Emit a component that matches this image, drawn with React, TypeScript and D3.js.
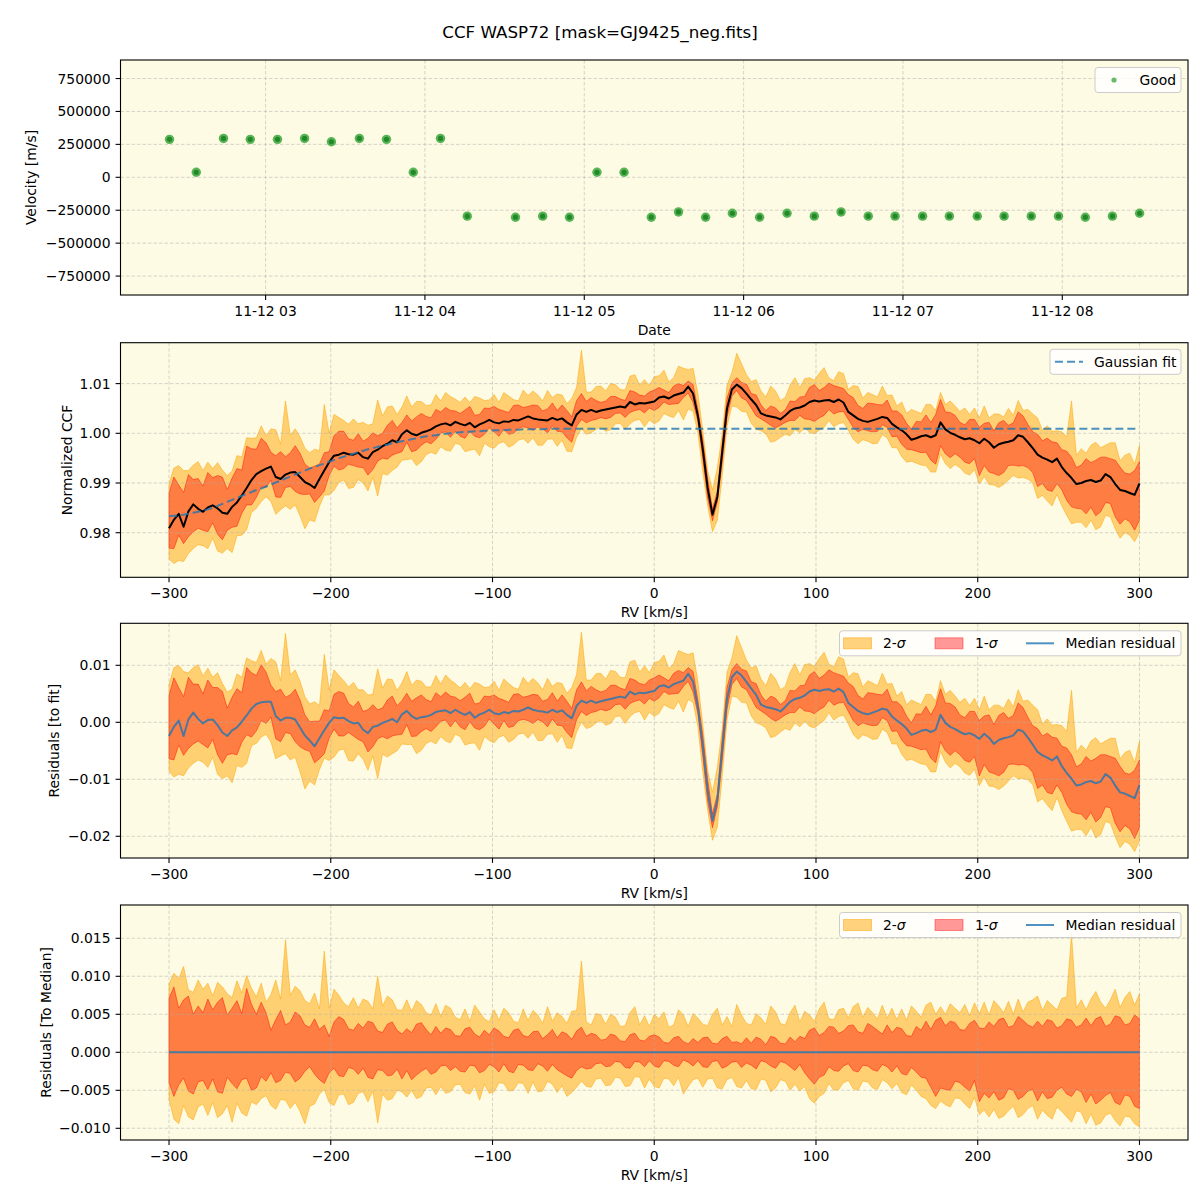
import React from "react";
import * as d3 from "d3";

// ---------------- data ----------------
const chartTitle = "CCF WASP72 [mask=GJ9425_neg.fits]";
const obsDay = "2023-11-12";

const obsTimes = [
  "02:23:49", "02:33:54", "02:44:09", "02:54:14", "03:04:29", "03:14:41", "03:24:47", "03:35:19",
  "03:45:31", "03:55:37", "04:05:52", "04:15:57", "04:34:06", "04:44:20", "04:54:26", "05:04:47",
  "05:14:59", "05:25:14", "05:35:29", "05:45:41", "05:55:46", "06:06:01", "06:16:22", "06:26:37",
  "06:36:42", "06:46:56", "06:57:02", "07:07:23", "07:17:29", "07:27:59", "07:38:05", "07:48:19",
  "07:58:34", "08:08:40", "08:18:52", "08:29:06",
];
const obsVelocity = [
  288000, 38000, 295000, 288000, 288000, 295000, 270000, 295000,
  288000, 38000, 295000, -295000, -303000, -295000, -303000, 38000,
  38000, -303000, -263000, -303000, -273000, -303000, -273000, -295000,
  -263000, -295000, -295000, -295000, -295000, -295000, -295000, -295000,
  -295000, -303000, -295000, -273000,
];

// RV sampling grid (km/s)
const rvGrid: number[] = d3.range(-300, 301, 3);

const ccfMedian = [
  0.9809, 0.9826, 0.9838, 0.9812, 0.9843, 0.9857, 0.9848, 0.9842, 0.9851, 0.9855,
  0.9849, 0.9840, 0.9838, 0.9852, 0.9861, 0.9875, 0.9890, 0.9906, 0.9918, 0.9924,
  0.9929, 0.9933, 0.9912, 0.9908, 0.9917, 0.9921, 0.9922, 0.9912, 0.9902, 0.9897,
  0.9890, 0.9908, 0.9925, 0.9942, 0.9955, 0.9957, 0.9961, 0.9958, 0.9957, 0.9961,
  0.9952, 0.9949, 0.9962, 0.9967, 0.9974, 0.9979, 0.9986, 0.9982, 0.9998, 1.0006,
  0.9999, 0.9996, 1.0001, 1.0004, 1.0008, 1.0014, 1.0018, 1.0020, 1.0016, 1.0023,
  1.0019, 1.0016, 1.0021, 1.0012, 1.0018, 1.0022, 1.0027, 1.0022, 1.0020, 1.0024,
  1.0023, 1.0027, 1.0026, 1.0030, 1.0034, 1.0030, 1.0028, 1.0027, 1.0026, 1.0031,
  1.0027, 1.0030, 1.0022, 1.0016, 1.0038, 1.0047, 1.0043, 1.0047, 1.0043, 1.0046,
  1.0048, 1.0050, 1.0052, 1.0054, 1.0052, 1.0063, 1.0058, 1.0061, 1.0060, 1.0062,
  1.0064, 1.0072, 1.0074, 1.0070, 1.0076, 1.0079, 1.0082, 1.0094, 1.0080, 1.0035,
  0.9968, 0.9890, 0.9836, 0.9872, 0.9962, 1.0050, 1.0088, 1.0098, 1.0091, 1.0080,
  1.0068, 1.0057, 1.0040, 1.0036, 1.0034, 1.0032, 1.0028, 1.0036, 1.0045, 1.0050,
  1.0052, 1.0056, 1.0063, 1.0066, 1.0064, 1.0066, 1.0067, 1.0063, 1.0068, 1.0062,
  1.0043, 1.0036, 1.0029, 1.0025, 1.0023, 1.0026, 1.0029, 1.0033, 1.0031, 1.0019,
  1.0012, 1.0006, 0.9998, 0.9987, 0.9990, 0.9994, 0.9996, 0.9992, 0.9996, 1.0022,
  1.0008, 1.0001, 0.9997, 0.9992, 0.9988, 0.9990, 0.9986, 0.9980, 0.9989, 0.9982,
  0.9971, 0.9978, 0.9981, 0.9983, 0.9986, 0.9996, 0.9993, 0.9982, 0.9970, 0.9957,
  0.9951, 0.9947, 0.9942, 0.9949, 0.9932, 0.9920, 0.9910, 0.9898, 0.9900, 0.9904,
  0.9906, 0.9902, 0.9905, 0.9918, 0.9912, 0.9898, 0.9886, 0.9884, 0.9880, 0.9876,
  0.9899,
];

const gaussianFit = [
  0.9833, 0.9834, 0.9835, 0.9836, 0.9838, 0.9840, 0.9842, 0.9844, 0.9847, 0.9850,
  0.9854, 0.9858, 0.9862, 0.9866, 0.9870, 0.9874, 0.9878, 0.9882, 0.9886, 0.9889,
  0.9893, 0.9897, 0.9901, 0.9905, 0.9909, 0.9913, 0.9917, 0.9921, 0.9925, 0.9929,
  0.9932, 0.9936, 0.9939, 0.9943, 0.9946, 0.9950, 0.9953, 0.9956, 0.9959, 0.9962,
  0.9965, 0.9968, 0.9970, 0.9973, 0.9975, 0.9977, 0.9980, 0.9982, 0.9984, 0.9986,
  0.9988, 0.9990, 0.9992, 0.9994, 0.9995, 0.9996, 0.9998, 0.9999, 1.0000, 1.0001,
  1.0002, 1.0003, 1.0003, 1.0004, 1.0004, 1.0005, 1.0005, 1.0006, 1.0006, 1.0006,
  1.0007, 1.0007, 1.0007, 1.0008, 1.0008, 1.0008, 1.0008, 1.0008, 1.0009, 1.0009,
  1.0009, 1.0009, 1.0009, 1.0009, 1.0009, 1.0009, 1.0009, 1.0009, 1.0009, 1.0009, 1.0009,
  1.0009, 1.0009, 1.0009, 1.0009, 1.0009, 1.0009, 1.0009, 1.0009, 1.0009, 1.0009, 1.0009,
  1.0009, 1.0009, 1.0009, 1.0009, 1.0009, 1.0009, 1.0009, 1.0009, 1.0009, 1.0009, 1.0009,
  1.0009, 1.0009, 1.0009, 1.0009, 1.0009, 1.0009, 1.0009, 1.0009, 1.0009, 1.0009, 1.0009,
  1.0009, 1.0009, 1.0009, 1.0009, 1.0009, 1.0009, 1.0009, 1.0009, 1.0009, 1.0009, 1.0009,
  1.0009, 1.0009, 1.0009, 1.0009, 1.0009, 1.0009, 1.0009, 1.0009, 1.0009, 1.0009, 1.0009,
  1.0009, 1.0009, 1.0009, 1.0009, 1.0009, 1.0009, 1.0009, 1.0009, 1.0009, 1.0009, 1.0009,
  1.0009, 1.0009, 1.0009, 1.0009, 1.0009, 1.0009, 1.0009, 1.0009, 1.0009, 1.0009, 1.0009,
  1.0009, 1.0009, 1.0009, 1.0009, 1.0009, 1.0009, 1.0009, 1.0009, 1.0009, 1.0009, 1.0009,
  1.0009, 1.0009, 1.0009, 1.0009, 1.0009, 1.0009, 1.0009, 1.0009, 1.0009, 1.0009, 1.0009,
  1.0009, 1.0009, 1.0009, 1.0009, 1.0009, 1.0009, 1.0009, 1.0009, 1.0009, 1.0009, 1.0009,
];

// band edges, as offsets from the median CCF
const sigma1Upper = [
  0.0071, 0.0086, 0.0058, 0.0069, 0.0074, 0.0050, 0.0061, 0.0052, 0.0070, 0.0056,
  0.0066, 0.0072, 0.0049, 0.0058, 0.0068, 0.0051, 0.0084, 0.0063, 0.0050, 0.0066,
  0.0052, 0.0029, 0.0043, 0.0055, 0.0036, 0.0040, 0.0053, 0.0048, 0.0036, 0.0033,
  0.0044, 0.0030, 0.0036, 0.0021, 0.0040, 0.0047, 0.0043, 0.0031, 0.0029, 0.0038,
  0.0032, 0.0041, 0.0039, 0.0028, 0.0026, 0.0037, 0.0040, 0.0029, 0.0024, 0.0031,
  0.0026, 0.0037, 0.0039, 0.0030, 0.0023, 0.0034, 0.0025, 0.0032, 0.0030, 0.0022,
  0.0021, 0.0031, 0.0033, 0.0024, 0.0020, 0.0029, 0.0023, 0.0032, 0.0028, 0.0021,
  0.0019, 0.0029, 0.0031, 0.0022, 0.0020, 0.0027, 0.0028, 0.0018, 0.0023, 0.0030,
  0.0019, 0.0027, 0.0024, 0.0017, 0.0028, 0.0033, 0.0021, 0.0025, 0.0023, 0.0016,
  0.0017, 0.0024, 0.0022, 0.0015, 0.0014, 0.0023, 0.0025, 0.0016, 0.0015, 0.0021,
  0.0023, 0.0020, 0.0013, 0.0012, 0.0019, 0.0021, 0.0014, 0.0011, 0.0018, 0.0013,
  0.0019, 0.0020, 0.0012, 0.0011, 0.0018, 0.0021, 0.0013, 0.0014, 0.0011, 0.0019,
  0.0012, 0.0020, 0.0017, 0.0010, 0.0021, 0.0019, 0.0012, 0.0011, 0.0020, 0.0014,
  0.0021, 0.0018, 0.0029, 0.0032, 0.0022, 0.0026, 0.0034, 0.0033, 0.0025, 0.0028,
  0.0035, 0.0036, 0.0027, 0.0025, 0.0038, 0.0034, 0.0029, 0.0024, 0.0036, 0.0026,
  0.0033, 0.0031, 0.0022, 0.0021, 0.0034, 0.0029, 0.0041, 0.0030, 0.0042, 0.0046,
  0.0035, 0.0041, 0.0039, 0.0030, 0.0029, 0.0038, 0.0042, 0.0032, 0.0031, 0.0040,
  0.0034, 0.0043, 0.0045, 0.0033, 0.0035, 0.0047, 0.0042, 0.0036, 0.0033, 0.0041,
  0.0034, 0.0043, 0.0041, 0.0032, 0.0035, 0.0044, 0.0042, 0.0033, 0.0036, 0.0045,
  0.0035, 0.0044, 0.0047, 0.0034, 0.0037, 0.0048, 0.0046, 0.0036, 0.0038, 0.0049,
  0.0044,
];
const sigma1Lower = [
  -0.0040, -0.0058, -0.0043, -0.0034, -0.0051, -0.0055, -0.0039, -0.0037, -0.0049, -0.0035,
  -0.0052, -0.0054, -0.0033, -0.0041, -0.0048, -0.0036, -0.0034, -0.0050, -0.0047, -0.0032,
  -0.0038, -0.0027, -0.0040, -0.0037, -0.0026, -0.0028, -0.0039, -0.0034, -0.0025, -0.0019,
  -0.0029, -0.0036, -0.0041, -0.0027, -0.0021, -0.0031, -0.0032, -0.0020, -0.0022, -0.0029,
  -0.0021, -0.0033, -0.0035, -0.0023, -0.0024, -0.0031, -0.0030, -0.0022, -0.0035, -0.0024,
  -0.0036, -0.0030, -0.0025, -0.0021, -0.0029, -0.0026, -0.0018, -0.0017, -0.0024, -0.0019,
  -0.0025, -0.0026, -0.0017, -0.0018, -0.0027, -0.0024, -0.0016, -0.0019, -0.0026, -0.0015,
  -0.0025, -0.0027, -0.0016, -0.0017, -0.0023, -0.0024, -0.0015, -0.0018, -0.0025, -0.0016,
  -0.0023, -0.0027, -0.0031, -0.0034, -0.0024, -0.0019, -0.0022, -0.0021, -0.0015, -0.0014,
  -0.0019, -0.0018, -0.0012, -0.0013, -0.0020, -0.0021, -0.0012, -0.0013, -0.0019, -0.0011,
  -0.0018, -0.0020, -0.0011, -0.0012, -0.0017, -0.0019, -0.0010, -0.0013, -0.0018, -0.0011,
  -0.0019, -0.0020, -0.0012, -0.0011, -0.0021, -0.0018, -0.0013, -0.0012, -0.0020, -0.0014,
  -0.0017, -0.0022, -0.0011, -0.0013, -0.0018, -0.0021, -0.0012, -0.0014, -0.0019, -0.0024,
  -0.0016, -0.0027, -0.0035, -0.0042, -0.0033, -0.0030, -0.0019, -0.0024, -0.0025, -0.0018,
  -0.0015, -0.0024, -0.0026, -0.0017, -0.0018, -0.0023, -0.0025, -0.0016, -0.0019, -0.0026,
  -0.0018, -0.0028, -0.0030, -0.0020, -0.0026, -0.0033, -0.0034, -0.0046, -0.0058, -0.0047,
  -0.0049, -0.0050, -0.0038, -0.0040, -0.0046, -0.0051, -0.0037, -0.0065, -0.0054, -0.0060,
  -0.0052, -0.0063, -0.0060, -0.0048, -0.0050, -0.0062, -0.0058, -0.0051, -0.0049, -0.0064,
  -0.0052, -0.0061, -0.0059, -0.0050, -0.0046, -0.0055, -0.0058, -0.0049, -0.0052, -0.0066,
  -0.0055, -0.0068, -0.0063, -0.0057, -0.0053, -0.0066, -0.0069, -0.0056, -0.0058, -0.0071,
  -0.0074,
];
const sigma2Upper = [
  0.0090, 0.0104, 0.0097, 0.0113, 0.0082, 0.0079, 0.0095, 0.0083, 0.0091, 0.0074,
  0.0092, 0.0086, 0.0077, 0.0072, 0.0094, 0.0078, 0.0101, 0.0084, 0.0073, 0.0091,
  0.0066, 0.0076, 0.0095, 0.0070, 0.0148, 0.0075, 0.0087, 0.0081, 0.0068, 0.0064,
  0.0078, 0.0057, 0.0133, 0.0058, 0.0083, 0.0075, 0.0065, 0.0060, 0.0072, 0.0058,
  0.0070, 0.0067, 0.0057, 0.0100, 0.0061, 0.0074, 0.0069, 0.0056, 0.0055, 0.0069,
  0.0054, 0.0068, 0.0063, 0.0052, 0.0049, 0.0064, 0.0047, 0.0062, 0.0058, 0.0046,
  0.0043, 0.0057, 0.0041, 0.0062, 0.0053, 0.0044, 0.0040, 0.0056, 0.0042, 0.0058,
  0.0052, 0.0041, 0.0039, 0.0057, 0.0042, 0.0055, 0.0049, 0.0038, 0.0060, 0.0041,
  0.0052, 0.0047, 0.0038, 0.0054, 0.0055, 0.0120, 0.0040, 0.0036, 0.0051, 0.0049,
  0.0037, 0.0050, 0.0046, 0.0034, 0.0035, 0.0052, 0.0060, 0.0036, 0.0048, 0.0034,
  0.0050, 0.0044, 0.0053, 0.0033, 0.0036, 0.0056, 0.0049, 0.0034, 0.0051, 0.0045,
  0.0037, 0.0035, 0.0050, 0.0058, 0.0036, 0.0047, 0.0034, 0.0063, 0.0049, 0.0038,
  0.0036, 0.0051, 0.0045, 0.0037, 0.0061, 0.0053, 0.0038, 0.0036, 0.0052, 0.0062,
  0.0040, 0.0054, 0.0049, 0.0041, 0.0057, 0.0066, 0.0044, 0.0043, 0.0056, 0.0058,
  0.0045, 0.0060, 0.0065, 0.0046, 0.0059, 0.0052, 0.0044, 0.0062, 0.0045, 0.0058,
  0.0043, 0.0057, 0.0042, 0.0061, 0.0054, 0.0046, 0.0062, 0.0066, 0.0050, 0.0060,
  0.0050, 0.0064, 0.0058, 0.0052, 0.0063, 0.0048, 0.0065, 0.0051, 0.0066, 0.0049,
  0.0068, 0.0061, 0.0052, 0.0067, 0.0050, 0.0070, 0.0053, 0.0066, 0.0069, 0.0074,
  0.0055, 0.0068, 0.0062, 0.0056, 0.0071, 0.0073, 0.0155, 0.0058, 0.0069, 0.0056,
  0.0070, 0.0080, 0.0066, 0.0058, 0.0069, 0.0083, 0.0059, 0.0072, 0.0080, 0.0062,
  0.0077,
];
const sigma2Lower = [
  -0.0062, -0.0088, -0.0094, -0.0070, -0.0085, -0.0089, -0.0072, -0.0068, -0.0083, -0.0066,
  -0.0086, -0.0081, -0.0070, -0.0092, -0.0067, -0.0080, -0.0084, -0.0065, -0.0069, -0.0061,
  -0.0057, -0.0070, -0.0075, -0.0062, -0.0063, -0.0074, -0.0066, -0.0078, -0.0094, -0.0071,
  -0.0068, -0.0055, -0.0049, -0.0066, -0.0070, -0.0056, -0.0055, -0.0069, -0.0066, -0.0054,
  -0.0052, -0.0065, -0.0051, -0.0093, -0.0055, -0.0063, -0.0061, -0.0050, -0.0052, -0.0059,
  -0.0050, -0.0061, -0.0058, -0.0047, -0.0046, -0.0056, -0.0045, -0.0054, -0.0052, -0.0043,
  -0.0042, -0.0053, -0.0055, -0.0044, -0.0063, -0.0042, -0.0054, -0.0052, -0.0040, -0.0041,
  -0.0051, -0.0050, -0.0040, -0.0041, -0.0054, -0.0039, -0.0052, -0.0051, -0.0038, -0.0042,
  -0.0053, -0.0044, -0.0058, -0.0053, -0.0046, -0.0038, -0.0045, -0.0046, -0.0035, -0.0034,
  -0.0044, -0.0043, -0.0033, -0.0034, -0.0045, -0.0044, -0.0032, -0.0033, -0.0047, -0.0035,
  -0.0045, -0.0047, -0.0034, -0.0035, -0.0044, -0.0033, -0.0055, -0.0045, -0.0036, -0.0034,
  -0.0046, -0.0035, -0.0034, -0.0047, -0.0048, -0.0036, -0.0033, -0.0045, -0.0047, -0.0037,
  -0.0048, -0.0049, -0.0035, -0.0037, -0.0052, -0.0047, -0.0036, -0.0038, -0.0050, -0.0042,
  -0.0051, -0.0045, -0.0061, -0.0067, -0.0058, -0.0054, -0.0041, -0.0050, -0.0049, -0.0040,
  -0.0037, -0.0048, -0.0050, -0.0038, -0.0039, -0.0047, -0.0049, -0.0036, -0.0040, -0.0048,
  -0.0041, -0.0053, -0.0056, -0.0043, -0.0050, -0.0058, -0.0061, -0.0070, -0.0074, -0.0064,
  -0.0069, -0.0072, -0.0060, -0.0061, -0.0068, -0.0074, -0.0059, -0.0082, -0.0076, -0.0085,
  -0.0075, -0.0087, -0.0084, -0.0077, -0.0071, -0.0086, -0.0082, -0.0074, -0.0070, -0.0088,
  -0.0076, -0.0083, -0.0088, -0.0072, -0.0078, -0.0085, -0.0092, -0.0077, -0.0079, -0.0094,
  -0.0081, -0.0096, -0.0093, -0.0083, -0.0080, -0.0090, -0.0097, -0.0084, -0.0085, -0.0094,
  -0.0098,
];

// ticks
const dateTickHours = ["03", "04", "05", "06", "07", "08"];
const velocityTicks = [-750000, -500000, -250000, 0, 250000, 500000, 750000];
const rvTicks = [-300, -200, -100, 0, 100, 200, 300];
const ccfTicks = [0.98, 0.99, 1.0, 1.01];
const fitResidualTicks = [-0.02, -0.01, 0.0, 0.01];
const medianResidualTicks = [-0.01, -0.005, 0.0, 0.005, 0.01, 0.015];

// ---------------- styling ----------------
const FONT = "'DejaVu Sans', Verdana, sans-serif";
const FS = 13.9;
const BG = "#fdfbe3";
const LEFT = 120.5;
const RIGHT = 1188;
const TICKLEN = 4.9;
const C0 = "#1f77b4";

const parseTime = d3.utcParse("%Y-%m-%d %H:%M:%S");
const fmtDate = d3.utcFormat("%m-%d %H");
const minus = (s: string) => s.replace("-", "\u2212");

type Scale = (v: any) => number;

function Axes(props: {
  id: string;
  top: number;
  bottom: number;
  x: Scale;
  y: Scale;
  xTicks: any[];
  yTicks: number[];
  xFmt: (v: any) => string;
  yFmt: (v: number) => string;
  xLabel: string;
  yLabel: string;
  yLabelX: number;
  under?: React.ReactNode;
  over?: React.ReactNode;
  legend?: React.ReactNode;
}) {
  const { id, top, bottom, x, y, xTicks, yTicks, xFmt, yFmt, xLabel, yLabel, yLabelX } = props;
  const cy = (top + bottom) / 2;
  return (
    <g>
      <rect x={LEFT} y={top} width={RIGHT - LEFT} height={bottom - top} fill={BG} />
      <defs>
        <clipPath id={id}>
          <rect x={LEFT} y={top} width={RIGHT - LEFT} height={bottom - top} />
        </clipPath>
      </defs>
      <g clipPath={`url(#${id})`}>{props.under}</g>
      <g stroke="#b0b0b0" strokeOpacity={0.65} strokeWidth={0.8} strokeDasharray="3.5,2">
        {xTicks.map((t, i) => (
          <line key={"gx" + i} x1={x(t)} x2={x(t)} y1={top} y2={bottom} />
        ))}
        {yTicks.map((t, i) => (
          <line key={"gy" + i} x1={LEFT} x2={RIGHT} y1={y(t)} y2={y(t)} />
        ))}
      </g>
      <g clipPath={`url(#${id})`}>{props.over}</g>
      <rect x={LEFT} y={top} width={RIGHT - LEFT} height={bottom - top} fill="none" stroke="#000" strokeWidth={1.1} />
      <g stroke="#000" strokeWidth={1.1}>
        {xTicks.map((t, i) => (
          <line key={"tx" + i} x1={x(t)} x2={x(t)} y1={bottom} y2={bottom + TICKLEN} />
        ))}
        {yTicks.map((t, i) => (
          <line key={"ty" + i} x1={LEFT - TICKLEN} x2={LEFT} y1={y(t)} y2={y(t)} />
        ))}
      </g>
      <g fontFamily={FONT} fontSize={FS} fill="#000">
        {xTicks.map((t, i) => (
          <text key={"lx" + i} x={x(t)} y={bottom + 21} textAnchor="middle">
            {xFmt(t)}
          </text>
        ))}
        {yTicks.map((t, i) => (
          <text key={"ly" + i} x={LEFT - 10} y={y(t) + 5} textAnchor="end">
            {yFmt(t)}
          </text>
        ))}
        <text x={(LEFT + RIGHT) / 2} y={bottom + 40} textAnchor="middle">
          {xLabel}
        </text>
        <text transform={`translate(${yLabelX},${cy}) rotate(-90)`} textAnchor="middle">
          {yLabel}
        </text>
      </g>
      {props.legend}
    </g>
  );
}

function LegendBox({ x, y, w }: { x: number; y: number; w: number }) {
  return (
    <rect x={x} y={y} width={w} height={25} rx={3} ry={3} fill="#fff" fillOpacity={0.8} stroke="#cccccc" strokeWidth={1} />
  );
}

function SigmaLegend({ top }: { top: number }) {
  const cy = top + 12.5;
  return (
    <g fontFamily={FONT} fontSize={FS}>
      <LegendBox x={839.5} y={top} w={341.5} />
      <rect x={843.5} y={cy - 5.5} width={28} height={11} fill="#ffa500" fillOpacity={0.5} stroke="#ffa500" strokeOpacity={0.5} />
      <text x={883} y={cy + 5}>
        2-<tspan fontStyle="italic">σ</tspan>
      </text>
      <rect x={935} y={cy - 5.5} width={28} height={11} fill="#ff0000" fillOpacity={0.4} stroke="#ff0000" strokeOpacity={0.4} />
      <text x={975} y={cy + 5}>
        1-<tspan fontStyle="italic">σ</tspan>
      </text>
      <line x1={1026} x2={1054} y1={cy} y2={cy} stroke={C0} strokeOpacity={0.8} strokeWidth={2} />
      <text x={1065.5} y={cy + 5}>Median residual</text>
    </g>
  );
}

export default function App() {
  // ---- panel 1: velocity vs date ----
  const xDate = d3
    .scaleUtc()
    .domain([parseTime(`${obsDay} 02:05:22`)!, parseTime(`${obsDay} 08:47:20`)!])
    .range([LEFT, RIGHT]);
  const yVel = d3.scaleLinear().domain([-893700, 890660]).range([295, 60]);
  const dateTicks = dateTickHours.map((h) => parseTime(`${obsDay} ${h}:00:00`)!);
  const obs = obsTimes.map((t, i) => ({ t: parseTime(`${obsDay} ${t}`)!, v: obsVelocity[i] }));

  // ---- RV panels ----
  const xRV = d3.scaleLinear().domain([-330, 330]).range([LEFT, RIGHT]);
  const yCCF = d3.scaleLinear().domain([0.97103, 1.01823]).range([577.3, 342.7]);
  const yFit = d3.scaleLinear().domain([-0.02381, 0.01737]).range([858, 623.3]);
  const yMed = d3.scaleLinear().domain([-0.01154, 0.01938]).range([1140, 905]);

  const fitResidual = ccfMedian.map((v, i) => v - gaussianFit[i]);
  const medianResidual = ccfMedian.map((v) => v - v);

  const band = (y: Scale, center: number[], lo: number[], hi: number[]) =>
    d3
      .area<number>()
      .x((_, i) => xRV(rvGrid[i]))
      .y0((_, i) => y(center[i] + lo[i]))
      .y1((_, i) => y(center[i] + hi[i]))(rvGrid) || "";
  const line = (y: Scale, vals: number[]) =>
    d3
      .line<number>()
      .x((_, i) => xRV(rvGrid[i]))
      .y((v) => y(v))(vals) || "";

  const bands = (y: Scale, center: number[]) => (
    <g>
      <path d={band(y, center, sigma2Lower, sigma2Upper)} fill="#ffa500" fillOpacity={0.5} stroke="#ffa500" strokeOpacity={0.5} strokeWidth={1} />
      <path d={band(y, center, sigma1Lower, sigma1Upper)} fill="#ff0000" fillOpacity={0.4} stroke="#ff0000" strokeOpacity={0.45} strokeWidth={1} />
    </g>
  );

  const rvFmt = (v: number) => minus(String(v));

  return (
    <svg width={1200} height={1200} style={{ position: "absolute", left: 0, top: 0, background: "#fff" }}>
      <rect x={0} y={0} width={1200} height={1200} fill="#fff" />
      <text x={600} y={38} textAnchor="middle" fontFamily={FONT} fontSize={16.7}>
        {chartTitle}
      </text>

      <Axes
        id="p1"
        top={60}
        bottom={295}
        x={xDate}
        y={yVel}
        xTicks={dateTicks}
        yTicks={velocityTicks}
        xFmt={(d: Date) => fmtDate(d)}
        yFmt={(v) => minus(String(v))}
        xLabel="Date"
        yLabel="Velocity [m/s]"
        yLabelX={36}
        over={
          <g>
            {obs.map((o, i) => (
              <g key={i}>
                <circle cx={xDate(o.t)} cy={yVel(o.v)} r={4.7} fill="#45ad45" fillOpacity={0.9} />
                <circle cx={xDate(o.t)} cy={yVel(o.v)} r={2.6} fill="#24882a" />
              </g>
            ))}
          </g>
        }
        legend={
          <g fontFamily={FONT} fontSize={FS}>
            <LegendBox x={1095} y={67.5} w={86} />
            <circle cx={1114} cy={80} r={2.6} fill="#4caf50" fillOpacity={0.85} />
            <text x={1139.5} y={85}>Good</text>
          </g>
        }
      />

      <Axes
        id="p2"
        top={342.7}
        bottom={577.3}
        x={xRV}
        y={yCCF}
        xTicks={rvTicks}
        yTicks={ccfTicks}
        xFmt={rvFmt}
        yFmt={(v) => d3.format(".2f")(v)}
        xLabel="RV [km/s]"
        yLabel="Normalized CCF"
        yLabelX={71.5}
        under={bands(yCCF, ccfMedian)}
        over={
          <g fill="none">
            <path d={line(yCCF, ccfMedian)} stroke="#000" strokeWidth={2} strokeLinejoin="round" />
            <path d={line(yCCF, gaussianFit)} stroke={C0} strokeOpacity={0.8} strokeWidth={2} strokeDasharray="8,4" />
          </g>
        }
        legend={
          <g fontFamily={FONT} fontSize={FS}>
            <LegendBox x={1050} y={349.3} w={131} />
            <line x1={1055} x2={1083} y1={361.8} y2={361.8} stroke={C0} strokeOpacity={0.8} strokeWidth={2} strokeDasharray="8,4" />
            <text x={1094} y={366.8}>Gaussian fit</text>
          </g>
        }
      />

      <Axes
        id="p3"
        top={623.3}
        bottom={858}
        x={xRV}
        y={yFit}
        xTicks={rvTicks}
        yTicks={fitResidualTicks}
        xFmt={rvFmt}
        yFmt={(v) => minus(d3.format(".2f")(v))}
        xLabel="RV [km/s]"
        yLabel="Residuals [to fit]"
        yLabelX={58.5}
        under={bands(yFit, fitResidual)}
        over={<path d={line(yFit, fitResidual)} fill="none" stroke={C0} strokeOpacity={0.8} strokeWidth={2} strokeLinejoin="round" />}
        legend={<SigmaLegend top={630.8} />}
      />

      <Axes
        id="p4"
        top={905}
        bottom={1140}
        x={xRV}
        y={yMed}
        xTicks={rvTicks}
        yTicks={medianResidualTicks}
        xFmt={rvFmt}
        yFmt={(v) => minus(d3.format(".3f")(v))}
        xLabel="RV [km/s]"
        yLabel="Residuals [To Median]"
        yLabelX={51}
        under={bands(yMed, medianResidual)}
        over={<path d={line(yMed, medianResidual)} fill="none" stroke={C0} strokeOpacity={0.8} strokeWidth={2} />}
        legend={<SigmaLegend top={912.5} />}
      />
    </svg>
  );
}
